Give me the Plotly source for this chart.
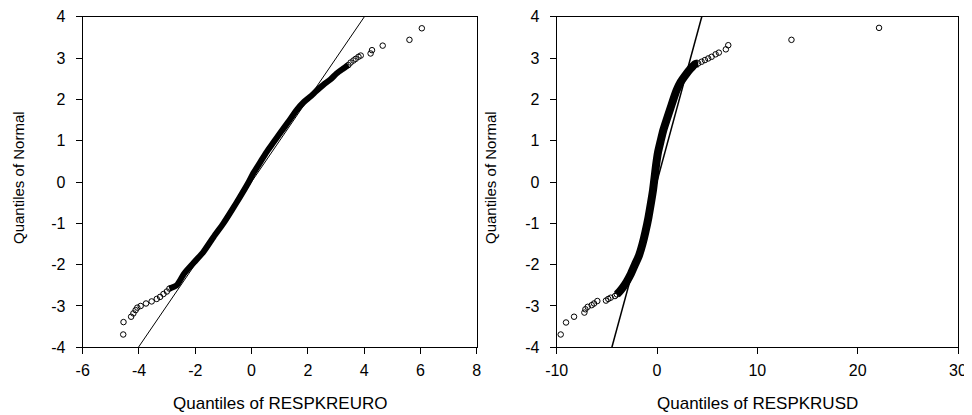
import plotly.graph_objects as go

# ---------------- data ----------------
# Left panel: RESPKREURO
euro_band_x = [-2.92, -2.66, -2.40, -2.05, -1.71, -1.35, -1.00, -0.70, -0.41, -0.10, 0.06, 0.30,
               0.54, 0.78, 1.01, 1.30, 1.60, 1.85, 2.08, 2.30, 2.55, 2.80, 3.03, 3.25, 3.44]
euro_band_y = [-2.58, -2.50, -2.22, -1.95, -1.69, -1.33, -1.00, -0.68, -0.36, 0.00, 0.21, 0.47,
               0.73, 0.96, 1.18, 1.45, 1.74, 1.93, 2.06, 2.20, 2.35, 2.48, 2.63, 2.74, 2.83]
euro_low_x = [-4.56, -4.55, -4.28, -4.20, -4.12, -4.06, -3.94, -3.75, -3.55, -3.37, -3.25, -3.13, -3.01, -2.92]
euro_low_y = [-3.69, -3.39, -3.26, -3.18, -3.10, -3.04, -3.00, -2.94, -2.89, -2.83, -2.78, -2.71, -2.65, -2.58]
euro_up_x = [3.44, 3.52, 3.62, 3.70, 3.80, 3.88, 4.23, 4.28, 4.66, 5.61, 6.05]
euro_up_y = [2.83, 2.89, 2.94, 2.98, 3.03, 3.06, 3.11, 3.19, 3.30, 3.44, 3.72]
euro_ref_x = [-4.02, 4.01]
euro_ref_y = [-4.0, 4.0]

# Right panel: RESPKRUSD
usd_band_x = [-4.00, -3.76, -3.40, -3.00, -2.60, -2.20, -1.80, -1.45, -1.15, -0.85, -0.60, -0.40,
              -0.25, -0.10, 0.10, 0.35, 0.62, 0.95, 1.28, 1.60, 1.95, 2.35, 2.78, 3.30, 3.78, 4.10]
usd_band_y = [-2.72, -2.66, -2.55, -2.40, -2.22, -2.00, -1.78, -1.50, -1.20, -0.85, -0.50, -0.20,
              0.10, 0.40, 0.72, 0.98, 1.25, 1.50, 1.74, 1.98, 2.22, 2.42, 2.57, 2.73, 2.85, 2.87]
usd_low_x = [-9.60, -9.07, -8.27, -7.24, -7.14, -6.91, -6.51, -6.28, -5.95, -5.09, -4.86, -4.62, -4.19, -4.00]
usd_low_y = [-3.69, -3.40, -3.26, -3.16, -3.08, -3.02, -2.98, -2.94, -2.88, -2.87, -2.83, -2.80, -2.76, -2.72]
usd_up_x = [4.10, 4.44, 4.77, 5.10, 5.44, 5.84, 6.16, 6.86, 7.10, 13.4, 22.13]
usd_up_y = [2.87, 2.91, 2.95, 2.99, 3.03, 3.09, 3.13, 3.21, 3.31, 3.44, 3.73]
usd_ref_x = [-4.50, 4.46]
usd_ref_y = [-4.0, 4.0]

euro_xticks = [-6, -4, -2, 0, 2, 4, 6, 8]
euro_xlabels = ["-6", "-4", "-2", "0", "2", "4", "6", "8"]
usd_xticks = [-10, 0, 10, 20, 30]
usd_xlabels = ["-10", "0", "10", "20", "30"]
yticks = [-4, -3, -2, -1, 0, 1, 2, 3, 4]
ylabels = ["-4", "-3", "-2", "-1", "0", "1", "2", "3", "4"]

x_title_left = "Quantiles of RESPKREURO"
x_title_right = "Quantiles of RESPKRUSD"
y_title = "Quantiles of Normal"

# ---------------- figure ----------------
FONT = "Liberation Sans, Arial, sans-serif"
marker = dict(symbol="circle-open", size=5.5, color="black", line=dict(width=1, color="black"))

fig = go.Figure()

def add_panel(band_x, band_y, low_x, low_y, up_x, up_y, ref_x, ref_y, xa, ya, band_w, ref_w):
    fig.add_trace(go.Scatter(x=ref_x, y=ref_y, mode="lines", line=dict(color="black", width=ref_w),
                             xaxis=xa, yaxis=ya, showlegend=False, hoverinfo="skip"))
    fig.add_trace(go.Scatter(x=band_x, y=band_y, mode="lines",
                             line=dict(color="black", width=band_w, shape="spline", smoothing=0.6),
                             xaxis=xa, yaxis=ya, showlegend=False))
    fig.add_trace(go.Scatter(x=low_x + up_x, y=low_y + up_y, mode="markers", marker=marker,
                             xaxis=xa, yaxis=ya, showlegend=False))

add_panel(euro_band_x, euro_band_y, euro_low_x, euro_low_y, euro_up_x, euro_up_y,
          euro_ref_x, euro_ref_y, "x", "y", 6, 1)
add_panel(usd_band_x, usd_band_y, usd_low_x, usd_low_y, usd_up_x, usd_up_y,
          usd_ref_x, usd_ref_y, "x2", "y2", 8, 1.5)

# page body has an 8px margin, so the figure is 8px smaller and everything shifts by 8
OFF = 8
W, H = 972 - OFF, 415 - OFF
def fx(px):
    return (px - OFF) / W
def fy(py):
    return 1 - (py - OFF) / H

ydom = [fy(347.3), fy(16.7)]

axis_common = dict(showgrid=False, zeroline=False, showline=True, linecolor="black", linewidth=1,
                   mirror=True, ticks="outside", ticklen=6, tickcolor="black", tickwidth=1,
                   tickfont=dict(family=FONT, size=16, color="black"), automargin=False)

fig.update_layout(
    width=W, height=H,
    margin=dict(l=0, r=0, t=0, b=0),
    paper_bgcolor="white", plot_bgcolor="white",
    font=dict(family=FONT, color="black"),
    xaxis=dict(axis_common, domain=[fx(82.7), fx(476.7)], range=[-6, 8],
               tickvals=euro_xticks, ticktext=euro_xlabels, anchor="y", ticklabelstandoff=2),
    yaxis=dict(axis_common, domain=ydom, range=[-4, 4], tickvals=yticks, ticktext=ylabels,
               anchor="x", ticklabelstandoff=7),
    xaxis2=dict(axis_common, domain=[fx(556.7), fx(958.0)], range=[-10, 30],
                tickvals=usd_xticks, ticktext=usd_xlabels, anchor="y2", ticklabelstandoff=2),
    yaxis2=dict(axis_common, domain=ydom, range=[-4, 4], tickvals=yticks, ticktext=ylabels,
                anchor="x2", ticklabelstandoff=7),
    annotations=[
        dict(text=x_title_left, x=fx(279.7), y=fy(403), xref="paper", yref="paper",
             showarrow=False, xanchor="center", yanchor="middle", font=dict(size=17, family=FONT)),
        dict(text=x_title_right, x=fx(757.5), y=fy(403), xref="paper", yref="paper",
             showarrow=False, xanchor="center", yanchor="middle", font=dict(size=17, family=FONT)),
        dict(text=y_title, x=fx(18), y=fy(178), xref="paper", yref="paper", textangle=-90,
             showarrow=False, xanchor="center", yanchor="middle", font=dict(size=15, family=FONT)),
        dict(text=y_title, x=fx(490), y=fy(178), xref="paper", yref="paper", textangle=-90,
             showarrow=False, xanchor="center", yanchor="middle", font=dict(size=15, family=FONT)),
    ],
)

fig.write_html("out.html")
